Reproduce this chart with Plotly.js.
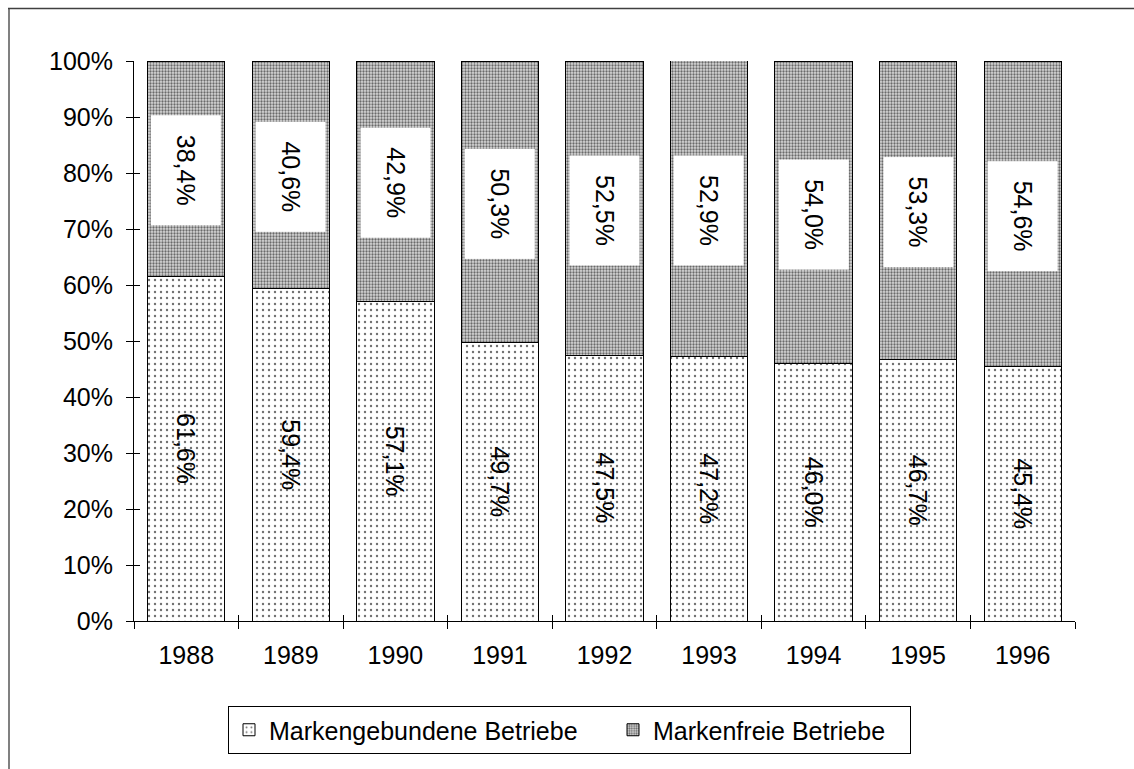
<!DOCTYPE html>
<html>
<head>
<meta charset="utf-8">
<script src="https://cdn.plot.ly/plotly-3.0.1.min.js"></script>
<style>
  html, body { margin: 0; padding: 0; background: #fff; }
  #chart { width: 1134px; height: 769px; }
</style>
</head>
<body>
<div id="chart"></div>
<script>
const years = ["1988", "1989", "1990", "1991", "1992", "1993", "1994", "1995", "1996"];
const markengebunden = [61.6, 59.4, 57.1, 49.7, 47.5, 47.2, 46.0, 46.7, 45.4];
const markenfrei = [38.4, 40.6, 42.9, 50.3, 52.5, 52.9, 54.0, 53.3, 54.6];
const seriesNames = ["Markengebundene Betriebe", "Markenfreie Betriebe"];

const FONT = "Arial, 'Liberation Sans', sans-serif";
const FS = 25;

function fmt(v) { return v.toFixed(1).replace(".", ",") + "%"; }

const traceA = {
  type: "bar",
  name: seriesNames[0],
  legendwidth: 339,
  x: years,
  y: markengebunden,
  text: markengebunden.map(fmt),
  texttemplate: "%{text}",
  textposition: "inside",
  insidetextanchor: "middle",
  textangle: 90,
  constraintext: "none",
  textfont: { family: FONT, size: FS, color: "#000" },
  hoverinfo: "skip",
  marker: {
    color: "#ffffff",
    line: { color: "#000", width: 1 },
    pattern: { shape: ".", size: 6, solidity: 0.12, fgcolor: "#707070", bgcolor: "#ffffff" }
  }
};

const traceB = {
  type: "bar",
  name: seriesNames[1],
  legendwidth: 252,
  x: years,
  y: markenfrei,
  hoverinfo: "skip",
  marker: {
    color: "#b0b0b0",
    line: { color: "#000", width: 1 },
    pattern: { shape: ".", size: 3, solidity: 0.45, fgcolor: "#6a6a6a", bgcolor: "#d8d8d8" }
  }
};

// empty helper trace so the overlay axes (inner tick halves) are drawn
const tickHelper = {
  type: "scatter", x: [], y: [], xaxis: "x2", yaxis: "y2",
  showlegend: false, hoverinfo: "skip"
};

const annotations = years.map((yr, i) => ({
  x: i,
  y: markengebunden[i] + markenfrei[i] / 2,
  xref: "x",
  yref: "y",
  yshift: -2,
  text: fmt(markenfrei[i]),
  showarrow: false,
  textangle: 90,
  width: 108,
  height: 68,
  bgcolor: "#ffffff",
  borderwidth: 0,
  font: { family: FONT, size: FS, color: "#000" }
}));

// outer frame (paper coords relative to plot area 134..1075 x, 61..621 y)
const px = x => (x - 134) / 941;
const py = y => (621 - y) / 560;
const shapes = [
  { type: "line", xref: "paper", yref: "paper", x0: px(9), x1: px(9), y0: py(769), y1: py(8), line: { color: "#808080", width: 2 } },
  { type: "line", xref: "paper", yref: "paper", x0: px(8), x1: px(1134), y0: py(8.5), y1: py(8.5), line: { color: "#404040", width: 1.5 } }
];

const layout = {
  width: 1134,
  height: 769,
  margin: { l: 134, r: 59, t: 61, b: 148 },
  paper_bgcolor: "#ffffff",
  plot_bgcolor: "rgba(0,0,0,0)",
  barmode: "stack",
  bargap: 0.26,
  separators: ",.",
  showlegend: true,
  font: { family: FONT, size: FS, color: "#000" },
  xaxis: {
    type: "category",
    categoryorder: "array",
    categoryarray: years,
    range: [-0.5, years.length - 0.5],
    autorange: false,
    tickson: "boundaries",
    ticks: "outside",
    ticklen: 7,
    tickcolor: "#000",
    showline: true,
    linecolor: "#000",
    linewidth: 1,
    showgrid: false,
    zeroline: false,
    tickangle: 0,
    ticklabelstandoff: 12,
    tickfont: { family: FONT, size: FS, color: "#000" }
  },
  yaxis: {
    range: [0, 100],
    autorange: false,
    dtick: 10,
    tick0: 0,
    ticksuffix: "%",
    ticks: "outside",
    ticklen: 7,
    tickcolor: "#000",
    showline: true,
    linecolor: "#000",
    linewidth: 1,
    showgrid: false,
    zeroline: false,
    ticklabelstandoff: 8,
    tickfont: { family: FONT, size: FS, color: "#000" }
  },
  xaxis2: {
    overlaying: "x",
    anchor: "y",
    side: "bottom",
    range: [-0.5, years.length - 0.5],
    autorange: false,
    tick0: -0.5,
    dtick: 1,
    ticks: "inside",
    ticklen: 6,
    tickcolor: "#000",
    showticklabels: false,
    showline: false,
    showgrid: false,
    zeroline: false
  },
  yaxis2: {
    overlaying: "y",
    anchor: "x",
    side: "left",
    range: [0, 100],
    autorange: false,
    tick0: 0,
    dtick: 10,
    ticks: "inside",
    ticklen: 6,
    tickcolor: "#000",
    showticklabels: false,
    showline: false,
    showgrid: false,
    zeroline: false
  },
  legend: {
    orientation: "h",
    x: px(228),
    xanchor: "left",
    y: py(706),
    yanchor: "top",
    bordercolor: "#000",
    borderwidth: 1,
    bgcolor: "#ffffff",
    font: { family: FONT, size: FS, color: "#000" },
    traceorder: "normal"
  },
  annotations: annotations,
  shapes: shapes
};

Plotly.newPlot("chart", [traceA, traceB, tickHelper], layout, { displayModeBar: false, staticPlot: true });
</script>
</body>
</html>
